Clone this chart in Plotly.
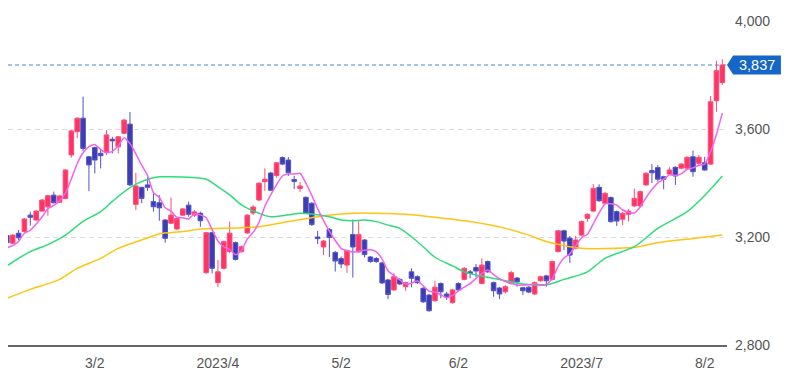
import plotly.graph_objects as go

# ---- trading days (categories) ----
FEB = [8, 9, 10, 13, 14, 15, 16, 17, 20, 21, 22, 24, 27, 28]
MAR = [1, 2, 3, 6, 7, 8, 9, 10, 13, 14, 15, 16, 17, 20, 22, 23, 24, 27, 28, 29, 30, 31]
APR = [3, 4, 5, 6, 7, 10, 11, 12, 13, 14, 17, 18, 19, 20, 21, 24, 25, 26, 27, 28]
MAY = [1, 2, 8, 9, 10, 11, 12, 15, 16, 17, 18, 19, 22, 23, 24, 25, 26, 29, 30, 31]
JUN = [1, 2, 5, 6, 7, 8, 9, 12, 13, 14, 15, 16, 19, 20, 21, 22, 23, 26, 27, 28, 29, 30]
JUL = [3, 4, 5, 6, 7, 10, 11, 12, 13, 14, 18, 19, 20, 21, 24, 25, 26, 27, 28, 31]
AUG = [1, 2, 3, 4, 7]
MONTHS = [(2, FEB), (3, MAR), (4, APR), (5, MAY), (6, JUN), (7, JUL), (8, AUG)]
DATES = [f"2023-{m:02d}-{d:02d}" for m, days in MONTHS for d in days]

# ---- OHLC ----
OPEN = [3205, 3177, 3214, 3220, 3281, 3263, 3296, 3312, 3355, 3329,
        3343, 3504, 3590, 3640, 3497, 3531, 3510, 3516, 3562, 3534,
        3584, 3618, 3321, 3384, 3393, 3331, 3327, 3263, 3251, 3230,
        3281, 3318, 3281, 3288, 3068, 3216, 3031, 3084, 3146, 3179,
        3146, 3215, 3289, 3337, 3405, 3437, 3428, 3494, 3485, 3413,
        3380, 3347, 3325, 3200, 3163, 3228, 3143, 3120, 3096, 3209,
        3145, 3189, 3126, 3120, 3104, 3041, 3004, 3043, 3016, 3071,
        3053, 3010, 2985, 2964, 3028, 2989, 2957, 3028, 3043, 3071,
        3087, 3028, 3109, 3031, 3011, 2997, 3028, 3048, 3012, 3014,
        2989, 3038, 3056, 3043, 3146, 3223, 3196, 3158, 3207, 3269,
        3296, 3384, 3325, 3346, 3294, 3266, 3284, 3315, 3315, 3393,
        3446, 3457, 3423, 3433, 3458, 3455, 3455, 3497, 3473, 3475,
        3470, 3705, 3772]
HIGH = [3214, 3210, 3226, 3270, 3294, 3299, 3340, 3356, 3368, 3355,
        3451, 3596, 3643, 3720, 3500, 3535, 3522, 3596, 3571, 3574,
        3637, 3663, 3438, 3386, 3421, 3362, 3355, 3266, 3346, 3272,
        3308, 3331, 3300, 3294, 3219, 3219, 3115, 3186, 3257, 3183,
        3168, 3285, 3318, 3403, 3454, 3441, 3478, 3498, 3496, 3426,
        3404, 3350, 3329, 3222, 3189, 3233, 3148, 3128, 3154, 3265,
        3259, 3192, 3130, 3126, 3108, 3045, 3066, 3047, 3034, 3084,
        3058, 3014, 2989, 3038, 3032, 2997, 3008, 3032, 3088, 3078,
        3100, 3121, 3113, 3035, 3015, 3022, 3075, 3052, 3016, 3018,
        3035, 3057, 3060, 3113, 3226, 3227, 3204, 3204, 3261, 3288,
        3396, 3395, 3366, 3350, 3298, 3292, 3303, 3380, 3372, 3440,
        3470, 3467, 3427, 3458, 3462, 3475, 3499, 3520, 3504, 3497,
        3722, 3853, 3858]
LOW = [3175, 3174, 3189, 3217, 3242, 3260, 3293, 3279, 3324, 3326,
       3340, 3494, 3566, 3518, 3370, 3436, 3454, 3504, 3510, 3510,
       3581, 3389, 3300, 3325, 3371, 3294, 3260, 3179, 3248, 3226,
       3278, 3275, 3274, 3238, 3064, 3065, 3014, 3080, 3140, 3113,
       3142, 3211, 3281, 3333, 3371, 3370, 3419, 3466, 3426, 3378,
       3367, 3285, 3241, 3174, 3133, 3126, 3072, 3085, 3067, 3050,
       3141, 3124, 3105, 3104, 3026, 2970, 3000, 3022, 3001, 3014,
       3026, 2956, 2923, 2960, 2973, 2967, 2953, 3000, 3040, 3047,
       3052, 3024, 3067, 2979, 2970, 2991, 3024, 3016, 2985, 2992,
       2985, 3034, 3016, 3039, 3142, 3152, 3104, 3154, 3203, 3257,
       3292, 3331, 3321, 3253, 3241, 3244, 3257, 3311, 3311, 3389,
       3400, 3405, 3377, 3430, 3393, 3451, 3451, 3423, 3467, 3446,
       3467, 3664, 3763]
CLOSE = [3179, 3207, 3197, 3267, 3273, 3296, 3337, 3353, 3327, 3352,
         3448, 3593, 3640, 3528, 3467, 3485, 3501, 3578, 3556, 3571,
         3633, 3393, 3389, 3343, 3384, 3312, 3308, 3195, 3281, 3269,
         3304, 3284, 3293, 3260, 3216, 3084, 3071, 3183, 3214, 3117,
         3164, 3281, 3311, 3399, 3414, 3373, 3475, 3470, 3439, 3406,
         3389, 3289, 3246, 3194, 3185, 3198, 3111, 3100, 3150, 3163,
         3209, 3135, 3109, 3109, 3030, 2987, 3053, 3026, 3031, 3047,
         3031, 2960, 2927, 3014, 2997, 2979, 3004, 3004, 3084, 3065,
         3074, 3096, 3071, 3001, 2989, 3016, 3068, 3034, 3001, 2996,
         3031, 3053, 3038, 3109, 3223, 3185, 3133, 3189, 3257, 3284,
         3380, 3334, 3362, 3257, 3259, 3288, 3296, 3343, 3368, 3436,
         3438, 3414, 3414, 3448, 3426, 3470, 3495, 3442, 3495, 3448,
         3701, 3816, 3837]

# ---- moving averages ----
MA5 = [3160, 3168, 3183, 3214, 3225, 3248, 3274, 3305, 3317, 3333,
       3363, 3415, 3472, 3512, 3535, 3543, 3524, 3512, 3517, 3538,
       3568, 3546, 3508, 3466, 3428, 3364, 3347, 3308, 3296, 3273,
       3271, 3267, 3286, 3282, 3271, 3227, 3185, 3163, 3154, 3134,
       3150, 3192, 3217, 3254, 3314, 3356, 3394, 3426, 3434, 3433,
       3436, 3399, 3354, 3305, 3261, 3222, 3187, 3158, 3149, 3144,
       3147, 3151, 3153, 3145, 3118, 3074, 3058, 3041, 3025, 3029,
       3038, 3019, 2999, 2996, 2986, 2975, 2984, 3000, 3014, 3027,
       3046, 3065, 3078, 3061, 3046, 3035, 3029, 3022, 3022, 3023,
       3026, 3023, 3024, 3045, 3091, 3122, 3138, 3168, 3197, 3210,
       3249, 3289, 3323, 3323, 3318, 3300, 3292, 3289, 3311, 3346,
       3376, 3400, 3414, 3430, 3428, 3434, 3451, 3456, 3466, 3470,
       3516, 3580, 3659]
MA25_IDX = [0, 2, 4, 7, 10, 13, 16, 18, 21, 24, 26, 28, 31, 34, 36, 38, 40, 43,
            45, 48, 50, 52, 55, 57, 59, 61, 63, 65, 67, 69, 71, 73, 76, 78, 80,
            82, 85, 88, 92, 95, 99, 102, 107, 111, 116, 119, 122]
MA25_VAL = [3093, 3121, 3146, 3172, 3207, 3258, 3294, 3332, 3383, 3414, 3423,
            3423, 3421, 3414, 3386, 3356, 3319, 3288, 3275, 3282, 3288, 3285,
            3275, 3263, 3260, 3263, 3257, 3244, 3232, 3201, 3164, 3125, 3093,
            3071, 3059, 3051, 3038, 3026, 3022, 3043, 3071, 3121, 3164, 3232,
            3294, 3354, 3426]
MA75_IDX = [0, 4, 9, 12, 16, 19, 23, 26, 30, 33, 37, 43, 48, 53, 57, 61, 65, 68,
            73, 79, 85, 89, 92, 96, 98, 102, 107, 111, 116, 122]
MA75_VAL = [2973, 3006, 3043, 3084, 3121, 3158, 3189, 3211, 3220, 3230, 3232,
            3238, 3257, 3275, 3285, 3289, 3287, 3284, 3273, 3257, 3232, 3207,
            3183, 3164, 3158, 3157, 3162, 3179, 3192, 3207]

TICK_DATES = ["2023-03-02", "2023-04-03", "2023-05-02", "2023-06-02", "2023-07-03", "2023-08-02"]
TICK_TEXT = ["3/2", "2023/4", "5/2", "6/2", "2023/7", "8/2"]
Y_TICKS = [2800, 3200, 3600, 4000]
LAST = CLOSE[-1]

FONT = "Liberation Sans, Arial, sans-serif"

fig = go.Figure()
fig.add_trace(go.Candlestick(
    x=DATES, open=OPEN, high=HIGH, low=LOW, close=CLOSE,
    increasing=dict(line=dict(color="#ff4a72", width=1), fillcolor="#ff3366"),
    decreasing=dict(line=dict(color="#5252c4", width=1), fillcolor="#3d3db3"),
    whiskerwidth=0, showlegend=False, hoverinfo="skip",
))
fig.add_trace(go.Scatter(
    x=[DATES[i] for i in MA75_IDX], y=MA75_VAL, mode="lines",
    line=dict(color="#ffc414", width=1.5, shape="spline", smoothing=0.8),
    showlegend=False, hoverinfo="skip"))
fig.add_trace(go.Scatter(
    x=[DATES[i] for i in MA25_IDX], y=MA25_VAL, mode="lines",
    line=dict(color="#2fdc7a", width=1.5, shape="spline", smoothing=0.8),
    showlegend=False, hoverinfo="skip"))
fig.add_trace(go.Scatter(
    x=DATES, y=MA5, mode="lines",
    line=dict(color="#f062f0", width=1.5, shape="spline", smoothing=0.5),
    showlegend=False, hoverinfo="skip"))

# last price line and badge
fig.add_shape(type="line", xref="paper", yref="y", x0=0, x1=1, y0=LAST, y1=LAST,
              line=dict(color="#3f86e0", width=1, dash="4px,3px"), layer="below")
fig.add_shape(type="path", xref="paper", yref="y",
              path=f"M 1,{LAST} L 1.0085,{LAST + 35} L 1.075,{LAST + 35} "
                   f"L 1.075,{LAST - 35} L 1.0085,{LAST - 35} Z",
              fillcolor="#1467c8", line=dict(width=0), layer="above")
fig.add_annotation(xref="paper", yref="y", x=1.0418, y=LAST, text=f"{LAST:,}",
                   showarrow=False, xanchor="center", yanchor="middle",
                   font=dict(family=FONT, size=14.5, color="white"))

# The page body adds an 8px offset, so the figure is sized to fit the 811x387 window.
fig.update_layout(
    width=803, height=379,
    margin=dict(l=0, r=84, t=13, b=42),
    paper_bgcolor="white", plot_bgcolor="white",
    font=dict(family=FONT, size=14, color="#555555"),
    boxgap=0.22, boxgroupgap=0,
    showlegend=False,
    xaxis=dict(
        type="category", categoryorder="array", categoryarray=DATES,
        range=[0.2, 122.8], rangeslider=dict(visible=False),
        tickvals=TICK_DATES, ticktext=TICK_TEXT, showgrid=False,
        showline=True, linecolor="#666666", linewidth=1.5,
        ticks="", ticklabelstandoff=4, zeroline=False, automargin=False,
        tickfont=dict(family=FONT, size=14, color="#555555"),
    ),
    yaxis=dict(
        side="right", range=[2800, 4000], tickvals=Y_TICKS, tickformat=",d",
        showgrid=True, gridcolor="#dcdcdc", griddash="5px,4px", gridwidth=1,
        zeroline=False, showline=False, ticks="", ticklabelstandoff=7,
        automargin=False,
        tickfont=dict(family=FONT, size=14, color="#555555"),
    ),
)

fig.write_html("out.html")
